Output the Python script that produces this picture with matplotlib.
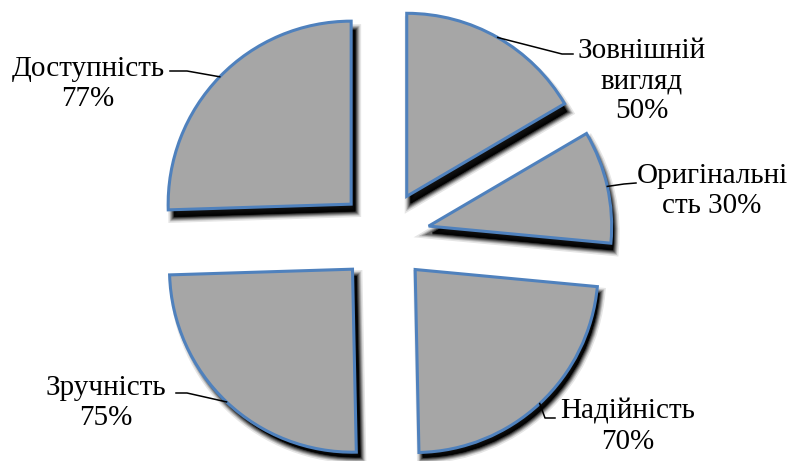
import numpy as np
import matplotlib
matplotlib.use("Agg")
import matplotlib.pyplot as plt
from matplotlib.patches import Wedge

# ---- data ----
categories = ["Зовнішній\nвигляд", "Оригінальні\nсть", "Надійність", "Зручність", "Доступність"]
values = [50, 30, 70, 75, 77]
label_texts = ["Зовнішній\nвигляд\n50%", "Оригінальні\nсть 30%", "Надійність\n70%", "Зручність\n75%", "Доступність\n77%"]

# ---- layout (pixel coords, image y-down) ----
W, H = 787, 461
center_img = (384, 236)
radius = 183
explode_frac = 0.25
label_pos = [(642, 81), (712, 191), (628, 427), (106, 403), (88, 84)]
elbow_pts = [[(562, 54), (573, 54)],
             [(624, 184), (636, 183)],
             [(545, 418), (555, 418)],
             [(187, 393), (176, 393)],
             [(187, 71), (170, 71)]]

face = "#A6A6A6"
edge = "#4F81BD"

def fy(y):
    return H - y

fig = plt.figure(figsize=(W / 100, H / 100), dpi=100)
ax = fig.add_axes([0, 0, 1, 1])

wedges, _ = ax.pie(values, radius=radius, center=(center_img[0], fy(center_img[1])),
                   startangle=90, counterclock=False,
                   explode=[explode_frac * radius] * len(values),
                   wedgeprops=dict(facecolor=face, edgecolor=edge, linewidth=2.2, zorder=3))

# soft shadows
for w in wedges:
    cx, cy = w.center
    for lw, a in [(12, 0.10), (9, 0.16), (7, 0.22), (5, 0.3), (3, 0.45), (1, 0.7)]:
        sh = Wedge((cx + 4, cy - 7), w.r - 2, w.theta1, w.theta2,
                   facecolor="black", edgecolor="black", linewidth=lw * 0.72,
                   alpha=a, zorder=1)
        ax.add_patch(sh)

for w, txt, lp, el in zip(wedges, label_texts, label_pos, elbow_pts):
    cx, cy = w.center
    tm = np.deg2rad(0.5 * (w.theta1 + w.theta2))
    ax_x = cx + w.r * np.cos(tm)
    ax_y = cy + w.r * np.sin(tm)
    xs = [ax_x] + [p[0] for p in el]
    ys = [ax_y] + [fy(p[1]) for p in el]
    ax.plot(xs, ys, color="black", linewidth=1.1, zorder=4)
    ax.text(lp[0], fy(lp[1]), txt, ha="center", va="center", fontsize=21,
            family=["Liberation Serif", "DejaVu Serif"], linespacing=1.2, zorder=5)

ax.set_xlim(0, W)
ax.set_ylim(0, H)
ax.set_aspect("equal")
ax.axis("off")
fig.savefig("out.png", dpi=100, facecolor="white")
